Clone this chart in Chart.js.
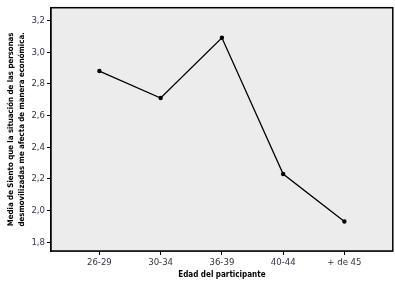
<!DOCTYPE html>
<html>
<head>
<meta charset="utf-8">
<script src="https://cdn.jsdelivr.net/npm/chart.js@4/dist/chart.umd.min.js"></script>
<style>
  html, body { margin: 0; padding: 0; background: #ffffff; }
  #wrap { width: 395px; height: 284px; position: relative; }
</style>
</head>
<body>
<div id="wrap"><canvas id="c" width="395" height="284"></canvas></div>
<script>
const categories = ["26-29", "30-34", "36-39", "40-44", "+ de 45"];
const meanValues = [2.88, 2.71, 3.09, 2.23, 1.93];
const yTitleLines = ["Media de Siento que la situación de las personas", "desmovilizadas me afecta de manera económica."];
const xTitle = "Edad del participante";

const FONT = "'Liberation Sans Narrow', 'DejaVu Sans Condensed', Arial, sans-serif";
const TICK_COLOR = "#2f3646";

const plotFrame = {
  id: 'plotFrame',
  beforeDatasetsDraw(chart) {
    const a = chart.chartArea, ctx = chart.ctx;
    ctx.save();
    ctx.fillStyle = '#ececec';
    ctx.fillRect(a.left, a.top, a.right - a.left, a.bottom - a.top);
    ctx.restore();
  },
  afterDatasetsDraw(chart) {
    const a = chart.chartArea, ctx = chart.ctx;
    ctx.save();
    ctx.strokeStyle = '#000';
    ctx.lineWidth = 1.5;
    ctx.strokeRect(a.left, a.top, a.right - a.left, a.bottom - a.top);
    ctx.restore();
  }
};

new Chart(document.getElementById('c'), {
  type: 'line',
  data: {
    datasets: [{
      data: meanValues.map((v, i) => ({ x: i, y: v })),
      borderColor: '#000',
      backgroundColor: '#000',
      borderWidth: 1.3,
      pointRadius: 2.2,
      pointHoverRadius: 2.2,
      pointBorderWidth: 0,
      tension: 0,
      fill: false
    }]
  },
  options: {
    responsive: false,
    animation: false,
    devicePixelRatio: 1,
    layout: { padding: { left: 0, right: 2, top: 3, bottom: 0 } },
    plugins: { legend: { display: false }, tooltip: { enabled: false } },
    scales: {
      x: {
        type: 'linear',
        min: -0.79,
        max: 4.79,
        afterFit(s) { s.height = 33; },
        grid: { drawOnChartArea: false, drawTicks: true, tickLength: 4, color: '#000', lineWidth: 1 },
        border: { display: true, color: '#000', width: 1.5 },
        ticks: {
          stepSize: 1,
          includeBounds: false,
          autoSkip: false,
          maxRotation: 0,
          padding: 2,
          color: TICK_COLOR,
          font: { family: FONT, size: 9.5 },
          callback: (v) => categories[v] !== undefined ? categories[v] : ''
        },
        title: {
          display: true,
          text: xTitle,
          color: '#000',
          font: { family: FONT, size: 8, weight: 'bold' },
          padding: { top: 0, bottom: 4 }
        }
      },
      y: {
        min: 1.744,
        max: 3.28,
        afterFit(s) { s.width = 51; },
        grid: { drawOnChartArea: false, drawTicks: true, tickLength: 4, color: '#000', lineWidth: 1 },
        border: { display: true, color: '#000', width: 1.5 },
        ticks: {
          stepSize: 0.2,
          includeBounds: false,
          padding: 2,
          color: TICK_COLOR,
          font: { family: FONT, size: 9.5 },
          callback: (v) => v.toFixed(1).replace('.', ',')
        },
        title: {
          display: true,
          text: yTitleLines,
          color: '#000',
          font: { family: FONT, size: 7.8, weight: 'bold', lineHeight: 1.35 },
          padding: { top: 6, bottom: 0 }
        }
      }
    }
  },
  plugins: [plotFrame]
});
</script>
</body>
</html>
